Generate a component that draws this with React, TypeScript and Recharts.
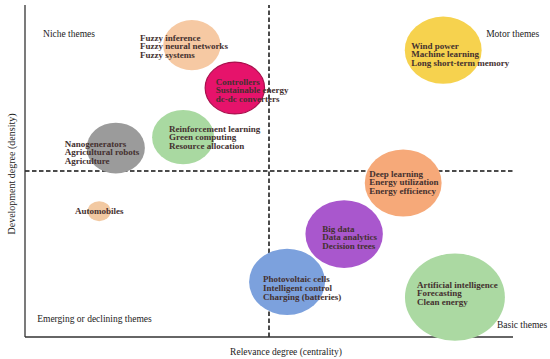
import {
  ScatterChart,
  Scatter,
  XAxis,
  YAxis,
  ZAxis,
  ReferenceLine,
  ReferenceDot,
  Label,
} from "recharts";

// thematic map: centrality (x) vs density (y), bubble area = weight
const themes = [
  "Fuzzy",
  "Controllers",
  "Reinforcement learning",
  "Nanogenerators",
  "Automobiles",
  "Wind power",
  "Deep learning",
  "Big data",
  "Photovoltaic cells",
  "Artificial intelligence",
];
const centrality = [34.2, 43.0, 32.4, 18.6, 15.2, 85.7, 77.5, 65.4, 53.7, 88.1];
const density = [87.9, 75.0, 60.2, 56.9, 37.9, 86.4, 46.4, 31.0, 16.6, 12.0];
const weight = [720, 770, 840, 740, 115, 1290, 1290, 1310, 1260, 2180];
const keywords = [
  ["Fuzzy inference", "Fuzzy neural networks", "Fuzzy systems"],
  ["Controllers", "Sustainable energy", "dc-dc converters"],
  ["Reinforcement learning", "Green computing", "Resource allocation"],
  ["Nanogenerators", "Agricultural robots", "Agriculture"],
  ["Automobiles"],
  ["Wind power", "Machine learning", "Long short-term memory"],
  ["Deep learning", "Energy utilization", "Energy efficiency"],
  ["Big data", "Data analytics", "Decision trees"],
  ["Photovoltaic cells", "Intelligent control", "Charging (batteries)"],
  ["Artificial intelligence", "Forecasting", "Clean energy"],
];

const medianCentrality = 50;
const medianDensity = 50;

const quadrantNames = [
  "Niche themes",
  "Motor themes",
  "Emerging or declining themes",
  "Basic themes",
];
const quadrantX = [3.7, 94.5, 2.5, 96.7];
const quadrantY = [91.3, 91.3, 5.4, 3.6];

// styles
const bubbleFill = [
  "#f6c9a3",
  "#e6136b",
  "#a9d9a1",
  "#9b9b9b",
  "#f2c9a2",
  "#f6d24e",
  "#f6a979",
  "#a957cd",
  "#7ca1dd",
  "#abd9a2",
];
const bubbleStroke = [
  "none",
  "#a80f4c",
  "none",
  "none",
  "none",
  "none",
  "none",
  "none",
  "none",
  "none",
];
// [dx to text start, dy of middle line] relative to bubble centre
const labelShift = [
  [-52, 1],
  [-19, 2],
  [-14, 0],
  [-51, 4],
  [0, 0],
  [-32, 4],
  [-34, -1],
  [-22, 3],
  [-24, 6],
  [-38, -4],
];
const ASPECT = 1.07;
const FONT = "'Liberation Serif', 'Times New Roman', serif";

const data = themes.map((name, i) => ({
  name,
  x: centrality[i],
  y: density[i],
  z: weight[i],
  keywords: keywords[i],
  fill: bubbleFill[i],
  stroke: bubbleStroke[i],
  shift: labelShift[i],
}));

const Bubble = (props: any) => {
  const { cx, cy, width, payload } = props;
  const r = width / 2;
  return (
    <ellipse
      cx={cx}
      cy={cy}
      rx={r * ASPECT}
      ry={r / ASPECT}
      fill={payload.fill}
      stroke={payload.stroke}
      strokeWidth={1.2}
    />
  );
};

const BubbleLabel = (props: any) => {
  const { cx, cy, payload } = props;
  const [dx, dy] = payload.shift;
  const lines: string[] = payload.keywords;
  const lh = 8.6;
  const y0 = cy + dy - ((lines.length - 1) * lh) / 2;
  const single = lines.length === 1;
  return (
    <text
      fontFamily={FONT}
      fontSize={9}
      fontWeight="bold"
      fill="#44302f"
      textAnchor={single ? "middle" : "start"}
    >
      {lines.map((l, i) => (
        <tspan key={l} x={cx + dx} y={y0 + i * lh} dy="0.35em">
          {l}
        </tspan>
      ))}
    </text>
  );
};

const NoteLabel = (text: string) => (props: any) => {
  const { viewBox } = props;
  return (
    <text
      x={viewBox.x + viewBox.width / 2}
      y={viewBox.y + viewBox.height / 2}
      dy="0.35em"
      fontFamily={FONT}
      fontSize={9.5}
      fill="#222"
    >
      {text}
    </text>
  );
};

const YTitle = (props: any) => {
  const { x, y, width, height } = props.viewBox;
  const cx = x + width * 0.6;
  const cy = y + height / 2 + 3;
  return (
    <text
      x={cx}
      y={cy}
      transform={`rotate(-90 ${cx} ${cy})`}
      textAnchor="middle"
      fontFamily={FONT}
      fontSize={10}
      fill="#222"
    >
      Development degree (density)
    </text>
  );
};

export default function App() {
  return (
    <div style={{ position: "absolute", left: 0, top: 0, width: 550, height: 359, background: "#fff" }}>
      <ScatterChart width={550} height={359} margin={{ top: 5, right: 37, bottom: 0, left: 0 }}>
        <XAxis
          type="number"
          dataKey="x"
          domain={[0, 100]}
          tick={false}
          tickLine={false}
          height={22}
          axisLine={{ stroke: "#333", strokeWidth: 1.3 }}
        >
          <Label
            value="Relevance degree (centrality)"
            position="insideBottom"
            offset={4}
            dx={17}
            fontFamily={FONT}
            fontSize={9.5}
            fill="#222"
          />
        </XAxis>
        <YAxis
          type="number"
          dataKey="y"
          domain={[0, 100]}
          tick={false}
          tickLine={false}
          width={25}
          axisLine={{ stroke: "#333", strokeWidth: 1.3 }}
        >
          <Label content={<YTitle />} />
        </YAxis>
        <ZAxis type="number" dataKey="z" domain={[0, 2200]} range={[0, 2200 * Math.PI]} />
        <ReferenceLine x={medianCentrality} stroke="#111" strokeWidth={1.5} strokeDasharray="4.5 2.5" />
        <ReferenceLine y={medianDensity} stroke="#111" strokeWidth={1.5} strokeDasharray="4.5 2.5" />
        <Scatter data={data} shape={<Bubble />} isAnimationActive={false} />
        <Scatter data={data} shape={<BubbleLabel />} isAnimationActive={false} />
        {quadrantNames.map((q, i) => (
          <ReferenceDot
            key={q}
            x={quadrantX[i]}
            y={quadrantY[i]}
            r={0}
            fill="none"
            stroke="none"
            label={NoteLabel(q)}
          />
        ))}
      </ScatterChart>
    </div>
  );
}
